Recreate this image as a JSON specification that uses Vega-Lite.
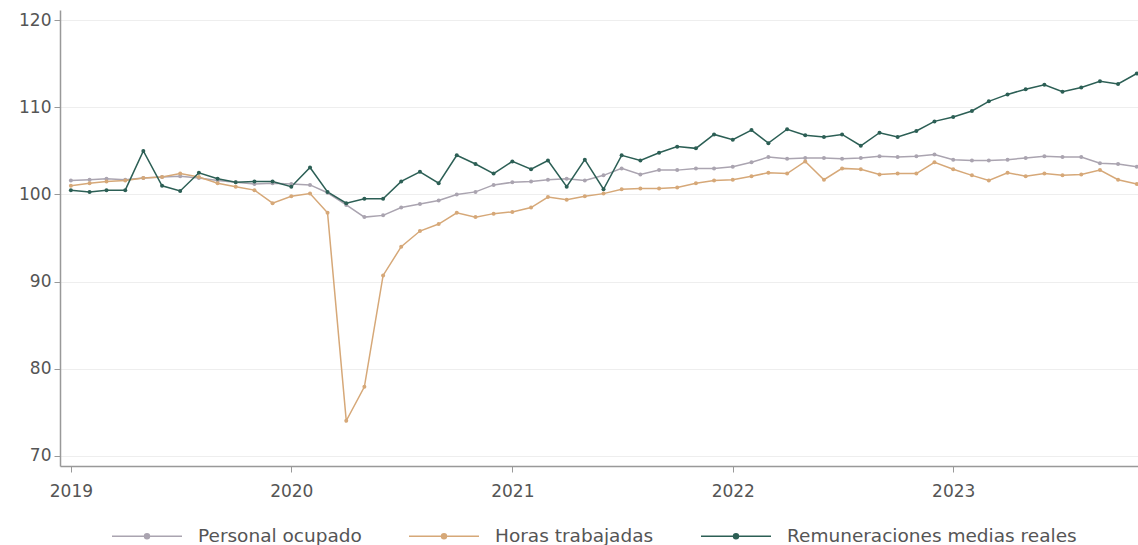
{
  "$schema": "https://vega.github.io/schema/vega-lite/v6.json",
  "width": 1078,
  "height": 456,
  "autosize": "none",
  "padding": {"left": 60, "top": 10, "right": 0, "bottom": 79},
  "background": "white",
  "config": {
    "view": {"stroke": null},
    "font": "DejaVu Sans"
  },
  "data": {
    "values": [
      {"fecha": "2019/01/01", "Personal ocupado": 101.6, "Horas trabajadas": 101.0, "Remuneraciones medias reales": 100.5},
      {"fecha": "2019/02/01", "Personal ocupado": 101.7, "Horas trabajadas": 101.3, "Remuneraciones medias reales": 100.3},
      {"fecha": "2019/03/01", "Personal ocupado": 101.8, "Horas trabajadas": 101.5, "Remuneraciones medias reales": 100.5},
      {"fecha": "2019/04/01", "Personal ocupado": 101.7, "Horas trabajadas": 101.6, "Remuneraciones medias reales": 100.5},
      {"fecha": "2019/05/01", "Personal ocupado": 101.9, "Horas trabajadas": 101.9, "Remuneraciones medias reales": 105.0},
      {"fecha": "2019/06/01", "Personal ocupado": 102.0, "Horas trabajadas": 102.0, "Remuneraciones medias reales": 101.0},
      {"fecha": "2019/07/01", "Personal ocupado": 102.1, "Horas trabajadas": 102.4, "Remuneraciones medias reales": 100.4},
      {"fecha": "2019/08/01", "Personal ocupado": 101.9, "Horas trabajadas": 102.0, "Remuneraciones medias reales": 102.5},
      {"fecha": "2019/09/01", "Personal ocupado": 101.6, "Horas trabajadas": 101.3, "Remuneraciones medias reales": 101.8},
      {"fecha": "2019/10/01", "Personal ocupado": 101.4, "Horas trabajadas": 100.9, "Remuneraciones medias reales": 101.4},
      {"fecha": "2019/11/01", "Personal ocupado": 101.2, "Horas trabajadas": 100.5, "Remuneraciones medias reales": 101.5},
      {"fecha": "2019/12/01", "Personal ocupado": 101.3, "Horas trabajadas": 99.0, "Remuneraciones medias reales": 101.5},
      {"fecha": "2020/01/01", "Personal ocupado": 101.2, "Horas trabajadas": 99.8, "Remuneraciones medias reales": 100.9},
      {"fecha": "2020/02/01", "Personal ocupado": 101.1, "Horas trabajadas": 100.1, "Remuneraciones medias reales": 103.1},
      {"fecha": "2020/03/01", "Personal ocupado": 100.2, "Horas trabajadas": 97.9, "Remuneraciones medias reales": 100.3},
      {"fecha": "2020/04/01", "Personal ocupado": 98.8, "Horas trabajadas": 74.0, "Remuneraciones medias reales": 99.0},
      {"fecha": "2020/05/01", "Personal ocupado": 97.4, "Horas trabajadas": 77.9, "Remuneraciones medias reales": 99.5},
      {"fecha": "2020/06/01", "Personal ocupado": 97.6, "Horas trabajadas": 90.7, "Remuneraciones medias reales": 99.5},
      {"fecha": "2020/07/01", "Personal ocupado": 98.5, "Horas trabajadas": 94.0, "Remuneraciones medias reales": 101.5},
      {"fecha": "2020/08/01", "Personal ocupado": 98.9, "Horas trabajadas": 95.8, "Remuneraciones medias reales": 102.6},
      {"fecha": "2020/09/01", "Personal ocupado": 99.3, "Horas trabajadas": 96.6, "Remuneraciones medias reales": 101.3},
      {"fecha": "2020/10/01", "Personal ocupado": 100.0, "Horas trabajadas": 97.9, "Remuneraciones medias reales": 104.5},
      {"fecha": "2020/11/01", "Personal ocupado": 100.3, "Horas trabajadas": 97.4, "Remuneraciones medias reales": 103.5},
      {"fecha": "2020/12/01", "Personal ocupado": 101.1, "Horas trabajadas": 97.8, "Remuneraciones medias reales": 102.4},
      {"fecha": "2021/01/01", "Personal ocupado": 101.4, "Horas trabajadas": 98.0, "Remuneraciones medias reales": 103.8},
      {"fecha": "2021/02/01", "Personal ocupado": 101.5, "Horas trabajadas": 98.5, "Remuneraciones medias reales": 102.9},
      {"fecha": "2021/03/01", "Personal ocupado": 101.7, "Horas trabajadas": 99.7, "Remuneraciones medias reales": 103.9},
      {"fecha": "2021/04/01", "Personal ocupado": 101.8, "Horas trabajadas": 99.4, "Remuneraciones medias reales": 100.9},
      {"fecha": "2021/05/01", "Personal ocupado": 101.6, "Horas trabajadas": 99.8, "Remuneraciones medias reales": 104.0},
      {"fecha": "2021/06/01", "Personal ocupado": 102.2, "Horas trabajadas": 100.1, "Remuneraciones medias reales": 100.6},
      {"fecha": "2021/07/01", "Personal ocupado": 103.0, "Horas trabajadas": 100.6, "Remuneraciones medias reales": 104.5},
      {"fecha": "2021/08/01", "Personal ocupado": 102.3, "Horas trabajadas": 100.7, "Remuneraciones medias reales": 103.9},
      {"fecha": "2021/09/01", "Personal ocupado": 102.8, "Horas trabajadas": 100.7, "Remuneraciones medias reales": 104.8},
      {"fecha": "2021/10/01", "Personal ocupado": 102.8, "Horas trabajadas": 100.8, "Remuneraciones medias reales": 105.5},
      {"fecha": "2021/11/01", "Personal ocupado": 103.0, "Horas trabajadas": 101.3, "Remuneraciones medias reales": 105.3},
      {"fecha": "2021/12/01", "Personal ocupado": 103.0, "Horas trabajadas": 101.6, "Remuneraciones medias reales": 106.9},
      {"fecha": "2022/01/01", "Personal ocupado": 103.2, "Horas trabajadas": 101.7, "Remuneraciones medias reales": 106.3},
      {"fecha": "2022/02/01", "Personal ocupado": 103.7, "Horas trabajadas": 102.1, "Remuneraciones medias reales": 107.4},
      {"fecha": "2022/03/01", "Personal ocupado": 104.3, "Horas trabajadas": 102.5, "Remuneraciones medias reales": 105.9},
      {"fecha": "2022/04/01", "Personal ocupado": 104.1, "Horas trabajadas": 102.4, "Remuneraciones medias reales": 107.5},
      {"fecha": "2022/05/01", "Personal ocupado": 104.2, "Horas trabajadas": 103.8, "Remuneraciones medias reales": 106.8},
      {"fecha": "2022/06/01", "Personal ocupado": 104.2, "Horas trabajadas": 101.7, "Remuneraciones medias reales": 106.6},
      {"fecha": "2022/07/01", "Personal ocupado": 104.1, "Horas trabajadas": 103.0, "Remuneraciones medias reales": 106.9},
      {"fecha": "2022/08/01", "Personal ocupado": 104.2, "Horas trabajadas": 102.9, "Remuneraciones medias reales": 105.6},
      {"fecha": "2022/09/01", "Personal ocupado": 104.4, "Horas trabajadas": 102.3, "Remuneraciones medias reales": 107.1},
      {"fecha": "2022/10/01", "Personal ocupado": 104.3, "Horas trabajadas": 102.4, "Remuneraciones medias reales": 106.6},
      {"fecha": "2022/11/01", "Personal ocupado": 104.4, "Horas trabajadas": 102.4, "Remuneraciones medias reales": 107.3},
      {"fecha": "2022/12/01", "Personal ocupado": 104.6, "Horas trabajadas": 103.7, "Remuneraciones medias reales": 108.4},
      {"fecha": "2023/01/01", "Personal ocupado": 104.0, "Horas trabajadas": 102.9, "Remuneraciones medias reales": 108.9},
      {"fecha": "2023/02/01", "Personal ocupado": 103.9, "Horas trabajadas": 102.2, "Remuneraciones medias reales": 109.6},
      {"fecha": "2023/03/01", "Personal ocupado": 103.9, "Horas trabajadas": 101.6, "Remuneraciones medias reales": 110.7},
      {"fecha": "2023/04/01", "Personal ocupado": 104.0, "Horas trabajadas": 102.5, "Remuneraciones medias reales": 111.5},
      {"fecha": "2023/05/01", "Personal ocupado": 104.2, "Horas trabajadas": 102.1, "Remuneraciones medias reales": 112.1},
      {"fecha": "2023/06/01", "Personal ocupado": 104.4, "Horas trabajadas": 102.4, "Remuneraciones medias reales": 112.6},
      {"fecha": "2023/07/01", "Personal ocupado": 104.3, "Horas trabajadas": 102.2, "Remuneraciones medias reales": 111.8},
      {"fecha": "2023/08/01", "Personal ocupado": 104.3, "Horas trabajadas": 102.3, "Remuneraciones medias reales": 112.3},
      {"fecha": "2023/09/01", "Personal ocupado": 103.6, "Horas trabajadas": 102.8, "Remuneraciones medias reales": 113.0},
      {"fecha": "2023/10/01", "Personal ocupado": 103.5, "Horas trabajadas": 101.7, "Remuneraciones medias reales": 112.7},
      {"fecha": "2023/11/01", "Personal ocupado": 103.2, "Horas trabajadas": 101.2, "Remuneraciones medias reales": 113.9}
    ]
  },
  "transform": [
    {"fold": ["Personal ocupado", "Horas trabajadas", "Remuneraciones medias reales"], "as": ["serie", "valor"]}
  ],
  "mark": {"type": "line", "clip": true, "point": {"filled": true, "size": 16}},
  "encoding": {
    "x": {
      "field": "fecha",
      "type": "temporal",
      "title": null,
      "scale": {"domain": [{"year": 2018, "month": 12, "date": 14}, {"year": 2023, "month": 11, "date": 3}]},
      "axis": {
        "format": "%Y",
        "tickCount": {"interval": "year", "step": 1},
        "grid": false,
        "domainColor": "#999999",
        "domainWidth": 1.5,
        "tickColor": "#999999",
        "tickSize": 6,
        "labelPadding": 11,
        "labelFlush": false,
        "labelFontSize": 17,
        "labelColor": "#555555",
        "labelFont": "DejaVu Sans"
      }
    },
    "y": {
      "field": "valor",
      "type": "quantitative",
      "title": null,
      "scale": {"domain": [68.8, 121.2], "nice": false, "zero": false},
      "axis": {
        "values": [70, 80, 90, 100, 110, 120],
        "grid": true,
        "gridColor": "#eeeeee",
        "domainColor": "#999999",
        "domainWidth": 1.5,
        "tickColor": "#999999",
        "tickSize": 6,
        "labelPadding": 3,
        "labelFontSize": 17,
        "labelColor": "#555555",
        "labelFont": "DejaVu Sans"
      }
    },
    "color": {
      "field": "serie",
      "type": "nominal",
      "scale": {
        "domain": ["Personal ocupado", "Horas trabajadas", "Remuneraciones medias reales"],
        "range": ["#aaa4b0", "#d6a878", "#2c5f55"]
      },
      "legend": {
        "title": null,
        "orient": "none",
        "direction": "horizontal",
        "legendX": 51,
        "legendY": 490,
        "symbolType": "M-1,0L1,0M-0.07,0A0.07,0.07,0,1,1,0.07,0A0.07,0.07,0,1,1,-0.07,0Z",
        "symbolSize": 4900,
        "symbolStrokeWidth": 1.6,
        "labelFontSize": 18.5,
        "labelLimit": 500,
        "labelColor": "#555555",
        "labelFont": "DejaVu Sans",
        "labelOffset": 15,
        "columnPadding": 44,
        "encode": {"symbols": {"update": {"fill": {"scale": "color", "field": "value"}}}}
      }
    },
    "strokeWidth": {
      "field": "serie",
      "type": "nominal",
      "scale": {
        "domain": ["Personal ocupado", "Horas trabajadas", "Remuneraciones medias reales"],
        "range": [1.5, 1.5, 2.2]
      },
      "legend": null
    }
  }
}
